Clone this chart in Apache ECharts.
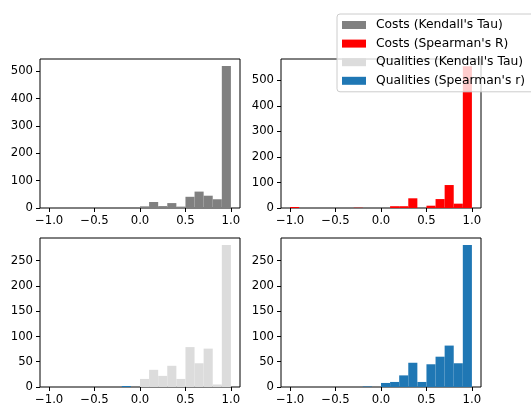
<!DOCTYPE html>
<html>
<head>
<meta charset="utf-8">
<script src="https://cdn.jsdelivr.net/npm/echarts@6/dist/echarts.min.js"></script>
<style>
  html, body { margin: 0; padding: 0; background: #fff; }
  #chart { width: 531px; height: 407px; }
</style>
</head>
<body>
<div id="chart"></div>
<script>
// Histogram bins: left edges, width 0.1, from -1.0 to 0.9
const binStarts = [-1.0, -0.9, -0.8, -0.7, -0.6, -0.5, -0.4, -0.3, -0.2, -0.1,
                    0.0, 0.1, 0.2, 0.3, 0.4, 0.5, 0.6, 0.7, 0.8, 0.9];
const binWidth = 0.1;

// Counts per bin for each correlation measure
const costsKendall      = [2, 0, 0, 0, 0, 0, 0, 1, 1, 0, 6, 22, 7, 18, 5, 41, 60, 45, 32, 519];
const costsSpearman     = [4, 0, 0, 0, 0, 0, 0, 1, 0, 0, 0, 7, 7, 38, 0, 9, 35, 90, 17, 556];
const qualitiesKendall  = [0, 0, 0, 0, 0, 0, 0, 0, 0, 0, 16, 34, 22, 42, 16, 79, 47, 76, 5, 281];
const qualitiesSpearman = [0, 0, 0, 0, 0, 0, 0, 0, 1, 0, 8, 10, 23, 48, 10, 45, 60, 82, 47, 281];
// single stray bin drawn in blue inside the Kendall qualities panel
const strayQualities    = [0, 0, 0, 0, 0, 0, 0, 0, 2, 0, 0, 0, 0, 0, 0, 0, 0, 0, 0, 0];

const seriesNames = ["Costs (Kendall's Tau)", "Costs (Spearman's R)",
                     "Qualities (Kendall's Tau)", "Qualities (Spearman's r)"];
const seriesColors = ['#808080', '#ff0000', '#dcdcdc', '#1f77b4'];

// Axis tick labels
const xTicks = [-1.0, -0.5, 0.0, 0.5, 1.0];
const yTicksCosts = [0, 100, 200, 300, 400, 500];
const yTicksQualities = [0, 50, 100, 150, 200, 250];
const yMax = [545, 584, 295, 295];

const FONT = 'DejaVu Sans';
const grids = [
  { left: 40,  top: 59,  width: 200, height: 149 },
  { left: 281, top: 59,  width: 200, height: 149 },
  { left: 40,  top: 238, width: 200, height: 149 },
  { left: 281, top: 238, width: 200, height: 149 }
];

function toBars(counts) {
  const out = [];
  counts.forEach((c, i) => {
    if (c > 0) out.push([binStarts[i], binStarts[i] + binWidth, c]);
  });
  return out;
}

function fmtX(v) {
  const s = Math.abs(v).toFixed(1);
  return (v < -1e-9 ? '\u2212' : '') + s;
}

function renderBar(params, api) {
  const p0 = api.coord([api.value(0), api.value(2)]);
  const p1 = api.coord([api.value(1), 0]);
  return {
    type: 'rect',
    shape: { x: p0[0], y: p0[1], width: p1[0] - p0[0], height: p1[1] - p0[1] },
    style: { fill: api.visual('color') }
  };
}

const xAxes = grids.map((g, i) => ({
  type: 'value', gridIndex: i, min: -1.1, max: 1.1,
  splitLine: { show: false },
  axisLine: { show: false, onZero: false },
  axisTick: { show: true, length: 4, lineStyle: { color: '#000', width: 1 }, customValues: xTicks },
  axisLabel: { color: '#000', fontFamily: FONT, fontSize: 11.7, margin: 7,
               customValues: xTicks, formatter: fmtX }
}));

const yAxes = grids.map((g, i) => {
  const ticks = i < 2 ? yTicksCosts : yTicksQualities;
  return {
    type: 'value', gridIndex: i, min: 0, max: yMax[i],
    splitLine: { show: false },
    axisLine: { show: false, onZero: false },
    axisTick: { show: true, length: 4, lineStyle: { color: '#000', width: 1 }, customValues: ticks },
    axisLabel: { color: '#000', fontFamily: FONT, fontSize: 11.7, margin: 7,
                 customValues: ticks, formatter: v => String(v) }
  };
});

const datasets = [costsKendall, costsSpearman, qualitiesKendall, qualitiesSpearman];
const series = datasets.map((d, i) => ({
  type: 'custom', name: seriesNames[i],
  xAxisIndex: i, yAxisIndex: i,
  itemStyle: { color: seriesColors[i] },
  renderItem: renderBar,
  encode: { x: [0, 1], y: 2 },
  data: toBars(d),
  z: 2
}));
series.push({
  type: 'custom', name: 'stray',
  xAxisIndex: 2, yAxisIndex: 2,
  itemStyle: { color: seriesColors[3] },
  renderItem: renderBar,
  encode: { x: [0, 1], y: 2 },
  data: toBars(strayQualities),
  z: 3
});

const option = {
  animation: false,
  backgroundColor: '#fff',
  grid: grids.map(g => Object.assign({ show: true, borderColor: '#000', borderWidth: 1,
                                       backgroundColor: 'transparent' }, g)),
  xAxis: xAxes,
  yAxis: yAxes,
  legend: {
    orient: 'vertical',
    left: 337, top: 14,
    z: 20,
    padding: [4, 12, 4, 5],
    itemGap: 4.6,
    itemWidth: 24, itemHeight: 8,
    backgroundColor: 'rgba(255,255,255,0.8)',
    borderColor: '#cccccc', borderWidth: 1, borderRadius: 3,
    selectedMode: false,
    textStyle: { color: '#000', fontFamily: FONT, fontSize: 12.3, lineHeight: 14, padding: [0, 0, 0, 5] },
    data: seriesNames.map(n => ({ name: n, icon: 'rect' }))
  },
  series: series
};

const chart = echarts.init(document.getElementById('chart'), null, { renderer: 'canvas' });
chart.setOption(option);
</script>
</body>
</html>
